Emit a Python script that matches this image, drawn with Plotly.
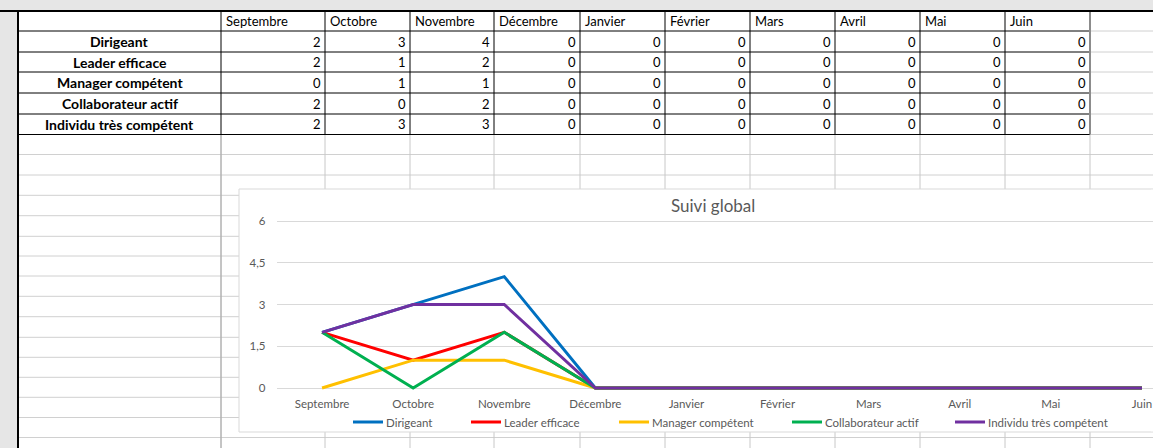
import plotly.graph_objects as go

# ---------------- data ----------------
months = ["Septembre", "Octobre", "Novembre", "Décembre", "Janvier",
          "Février", "Mars", "Avril", "Mai", "Juin"]
series_names = ["Dirigeant", "Leader efficace", "Manager compétent",
                "Collaborateur actif", "Individu très compétent"]
dirigeant = [2, 3, 4, 0, 0, 0, 0, 0, 0, 0]
leader_efficace = [2, 1, 2, 0, 0, 0, 0, 0, 0, 0]
manager_competent = [0, 1, 1, 0, 0, 0, 0, 0, 0, 0]
collaborateur_actif = [2, 0, 2, 0, 0, 0, 0, 0, 0, 0]
individu_tres_competent = [2, 3, 3, 0, 0, 0, 0, 0, 0, 0]
series_values = [dirigeant, leader_efficace, manager_competent,
                 collaborateur_actif, individu_tres_competent]
series_colors = ["#0070C0", "#FF0000", "#FFC000", "#00B050", "#7030A0"]
chart_title = "Suivi global"
y_ticks = [0, 1.5, 3, 4.5, 6]

# ---------------- geometry (pixels) ----------------
W, H = 1153, 448
FONT = "Lato"
col_edges = [18, 221, 325, 410, 494, 580, 665, 750, 835, 920, 1005, 1090]
table_rows = [11, 31, 52, 72, 93, 114, 134.5]
lower_rows = [154.5, 175, 195.3, 215.7, 236.3, 256, 276, 296.3, 316.7,
              337.3, 357.3, 377.3, 397.3, 417.5, 437.5]
legend_starts = [353, 471, 619, 792, 955]
legend_y = 422


def px(x):
    return x / W


def py(y):
    return 1 - y / H


shapes = []


def line(x0, y0, x1, y1, color, width=1, layer="below"):
    shapes.append(dict(type="line", xref="paper", yref="paper",
                       x0=px(x0), y0=py(y0), x1=px(x1), y1=py(y1),
                       line=dict(color=color, width=width), layer=layer))


# gray margins
shapes.append(dict(type="rect", xref="paper", yref="paper", x0=0, x1=px(18),
                   y0=0, y1=1, fillcolor="#e6e6e6", line=dict(width=0), layer="below"))
shapes.append(dict(type="rect", xref="paper", yref="paper", x0=0, x1=1,
                   y0=py(11), y1=1, fillcolor="#e6e6e6", line=dict(width=0), layer="below"))

# lower light grid
for y in lower_rows:
    line(18, y, W, y, "#d0d0d0")
for x in col_edges[1:]:
    line(x, 134.5, x, H, "#c8c8c8")
line(221, 134.5, 221, H, "#a6a6a6")

# table borders
for y in table_rows[1:]:
    line(18, y, 1090, y, "#000000")
    line(1090, y, W, y, "#d0d0d0")
for x in col_edges[1:-1]:
    line(x, 11, x, 134.5, "#000000")
line(1090, 11, 1090, 134.5, "#8c8c8c", 2)
line(0, 11, W, 11, "#000000", 2)
line(18, 11, 18, H, "#000000", 2)

# chart area box (continues past the right edge of the window)
shapes.append(dict(type="rect", xref="paper", yref="paper",
                   x0=px(239), x1=1, y0=py(432), y1=py(189),
                   fillcolor="#ffffff", line=dict(color="#d9d9d9", width=1),
                   layer="below"))
# hide the right border of the box (it is off-screen in the reference)
line(W - 0.5, 189.5, W - 0.5, 431.5, "#ffffff", 2)

# ---------------- table texts ----------------
annotations = []
for i, m in enumerate(months):
    annotations.append(dict(text=m, xref="paper", yref="paper",
                            x=px(col_edges[i + 1] + 3), y=py(21),
                            xanchor="left", yanchor="middle", showarrow=False,
                            font=dict(family=FONT, size=13, color="#000000")))
for r, (name, vals) in enumerate(zip(series_names, series_values)):
    yc = (table_rows[r + 1] + table_rows[r + 2]) / 2
    annotations.append(dict(text="<b>%s</b>" % name, xref="paper", yref="paper",
                            x=px((col_edges[0] + col_edges[1]) / 2), y=py(yc),
                            xanchor="center", yanchor="middle", showarrow=False,
                            font=dict(family=FONT, size=14, color="#000000")))
    for i, v in enumerate(vals):
        annotations.append(dict(text=str(v), xref="paper", yref="paper",
                                x=px(col_edges[i + 2] - 2), y=py(yc),
                                xanchor="right", yanchor="middle", showarrow=False,
                                font=dict(family=FONT, size=13, color="#000000")))

annotations.append(dict(text=chart_title, xref="paper", yref="paper",
                        x=px(713), y=py(205), xanchor="center", yanchor="middle",
                        showarrow=False,
                        font=dict(family=FONT, size=17, color="#595959")))

# manual legend (Excel style)
for name, col, s in zip(series_names, series_colors, legend_starts):
    line(s, legend_y, s + 30, legend_y, col, 3, layer="above")
    annotations.append(dict(text=name, xref="paper", yref="paper",
                            x=px(s + 31), y=py(legend_y), xanchor="left",
                            yanchor="middle", showarrow=False,
                            font=dict(family=FONT, size=11.5, color="#595959")))

# ---------------- chart ----------------
fig = go.Figure()
for name, vals, col in zip(series_names, series_values, series_colors):
    fig.add_trace(go.Scatter(x=months, y=vals, name=name, mode="lines",
                             line=dict(color=col, width=3)))

unit = (388 - 221) / 6.0
ypad = 0.2
y_bottom_px = 388 + ypad * unit
y_top_px = 221 - ypad * unit
step = 91.1
x_left_px = 276.5

fig.update_layout(
    width=W, height=H, autosize=False,
    margin=dict(l=0, r=0, t=0, b=0),
    paper_bgcolor="#ffffff",
    plot_bgcolor="rgba(0,0,0,0)",
    separators=", ",
    shapes=shapes,
    annotations=annotations,
    showlegend=False,
    xaxis=dict(domain=[px(x_left_px), 1],
               range=[-0.5, -0.5 + (W - x_left_px) / step],
               showgrid=False, zeroline=False, showline=False, ticks="",
               ticklabelstandoff=2,
               tickfont=dict(family=FONT, size=11.5, color="#595959"),
               fixedrange=True),
    yaxis=dict(domain=[py(y_bottom_px), py(y_top_px)],
               range=[-ypad, 6 + ypad],
               tickvals=y_ticks,
               showgrid=True, gridcolor="#d9d9d9", gridwidth=1,
               zeroline=False, showline=False, ticks="",
               ticklabelstandoff=10,
               tickfont=dict(family=FONT, size=11.5, color="#595959"),
               fixedrange=True),
)

post = (
    "document.documentElement.style.overflow='hidden';"
    "document.body.style.margin='0';"
    "document.body.style.overflow='hidden';"
)
fig.write_html("out.html", config={"displayModeBar": False}, post_script=post)
